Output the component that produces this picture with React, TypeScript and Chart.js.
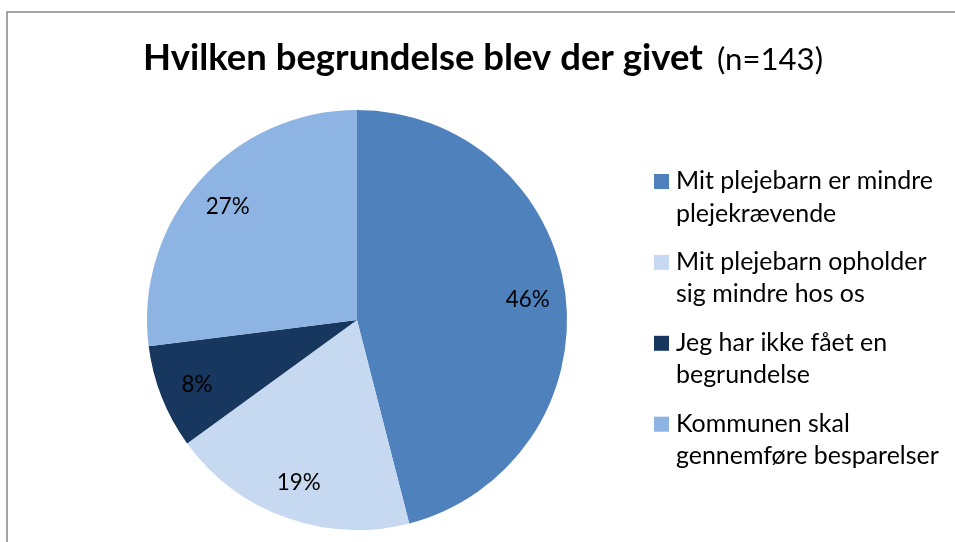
import React, { useEffect, useRef } from "react";
import { Chart, registerables } from "chart.js";

Chart.register(...registerables);

const TITLE_BOLD = "Hvilken begrundelse blev der givet";
const TITLE_NORMAL = "(n=143)";
const CATEGORY_LINES: string[][] = [
  ["Mit plejebarn er mindre", "plejekrævende"],
  ["Mit plejebarn opholder", "sig mindre hos os"],
  ["Jeg har ikke fået en", "begrundelse"],
  ["Kommunen skal", "gennemføre besparelser"],
];
const CATEGORIES = CATEGORY_LINES.map((l) => l.join(" "));
const PERCENTS = [46, 19, 8, 27];
const COLORS = ["#4F81BD", "#C6D9F1", "#17375E", "#8EB4E3"];

const FONT = "Lato, 'Open Sans', sans-serif";

function fitSize(ctx: CanvasRenderingContext2D, text: string, weight: string, target: number): number {
  ctx.font = `${weight} 100px ${FONT}`;
  const w = ctx.measureText(text).width;
  return (100 * target) / w;
}

const overlayPlugin = {
  id: "overlay",
  afterDraw(chart: any) {
    const ctx: CanvasRenderingContext2D = chart.ctx;
    ctx.save();
    // outer border
    ctx.strokeStyle = "#868686";
    ctx.lineWidth = 1.5;
    ctx.strokeRect(7, 12, chart.width, chart.height);

    // title
    ctx.fillStyle = "#000";
    ctx.textBaseline = "alphabetic";
    ctx.textAlign = "left";
    const tb = fitSize(ctx, TITLE_BOLD, "bold", 560);
    ctx.font = `bold ${tb}px ${FONT}`;
    ctx.fillText(TITLE_BOLD, 143, 70);
    const tn = fitSize(ctx, TITLE_NORMAL, "normal", 106);
    ctx.font = `normal ${tn}px ${FONT}`;
    ctx.fillText(TITLE_NORMAL, 717, 70);

    // data labels
    const meta = chart.getDatasetMeta(0);
    const ls = fitSize(ctx, "46%", "normal", 44);
    ctx.font = `normal ${ls}px ${FONT}`;
    ctx.textAlign = "center";
    ctx.textBaseline = "middle";
    meta.data.forEach((arc: any, i: number) => {
      const p = arc.getProps(["x", "y", "startAngle", "endAngle", "outerRadius"], true);
      const mid = (p.startAngle + p.endAngle) / 2;
      const r = p.outerRadius * 0.82;
      ctx.fillText(`${PERCENTS[i]}%`, p.x + Math.cos(mid) * r, p.y + Math.sin(mid) * r + 1);
    });

    // legend
    const lg = fitSize(ctx, CATEGORY_LINES[0][0], "normal", 257);
    ctx.font = `normal ${lg}px ${FONT}`;
    ctx.textAlign = "left";
    ctx.textBaseline = "alphabetic";
    CATEGORY_LINES.forEach((lines, i) => {
      const base = 189 + i * 80.9;
      ctx.fillStyle = COLORS[i];
      ctx.fillRect(654, base - 15, 15, 15);
      ctx.fillStyle = "#000";
      lines.forEach((line, j) => {
        ctx.fillText(line, 676, base + j * 32.5);
      });
    });
    ctx.restore();
  },
};

export default function App() {
  const ref = useRef<HTMLCanvasElement>(null);
  useEffect(() => {
    if (!ref.current) return;
    const chart = new Chart(ref.current, {
      type: "pie",
      data: {
        labels: CATEGORIES,
        datasets: [
          {
            data: PERCENTS,
            backgroundColor: COLORS,
            borderWidth: 0,
          },
        ],
      },
      options: {
        responsive: false,
        animation: false,
        layout: { padding: { left: 147, right: 388, top: 110, bottom: 12 } },
        plugins: {
          legend: { display: false },
          title: { display: false },
          tooltip: { enabled: false },
        },
      },
      plugins: [overlayPlugin],
    });
    return () => chart.destroy();
  }, []);
  return (
    <div style={{ position: "absolute", left: 0, top: 0, width: 955, height: 542, background: "#fff" }}>
      <canvas ref={ref} width={955} height={542} style={{ display: "block" }} />
    </div>
  );
}
